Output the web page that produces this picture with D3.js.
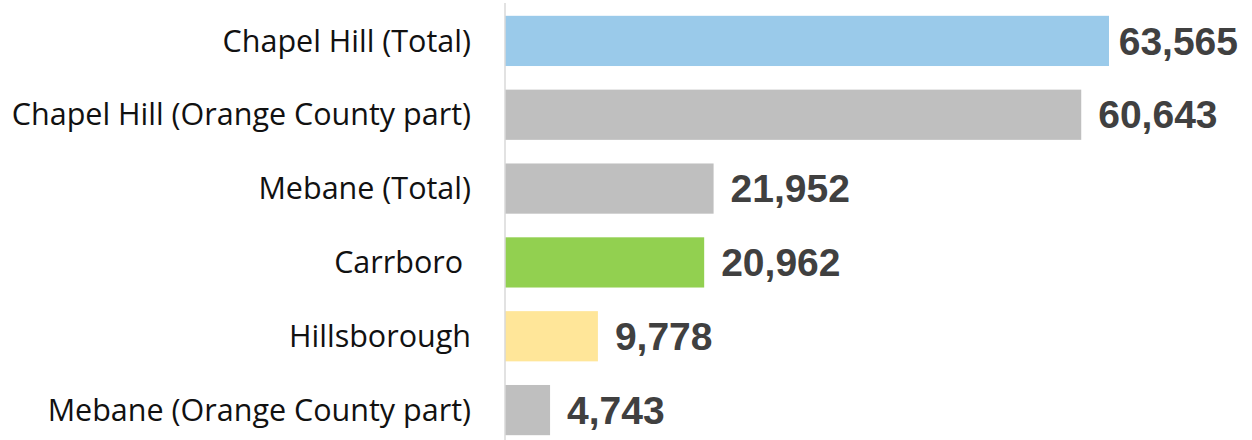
<!DOCTYPE html>
<html>
<head>
<meta charset="utf-8">
<script src="https://cdn.jsdelivr.net/npm/d3@7"></script>
<style>
  body { margin: 0; background: white; }
  svg { display: block; }
</style>
</head>
<body>
<div id="chart"></div>
<script>
var categories = ['Chapel Hill (Total)', 'Chapel Hill (Orange County part)', 'Mebane (Total)', 'Carrboro ', 'Hillsborough', 'Mebane (Orange County part)']
var values = [63565, 60643, 21952, 20962, 9778, 4743]
var barColors = ['#9acaea', '#bfbfbf', '#bfbfbf', '#92d050', '#ffe699', '#bfbfbf']

var width = 1252, height = 440
var axisX = 505

var data = categories.map(function (c, i) { return { name: c, value: values[i], color: barColors[i] } })

var svg = d3.select('#chart').append('svg')
    .attr('width', width)
    .attr('height', height)

// x: values -> pixels, zero sits on the vertical axis line
var x = d3.scaleLinear()
  .domain([0, 63565])
  .range([axisX, 1109])

var y = d3.scaleBand()
  .domain(categories)
  .range([4, 447])
  .paddingInner(0.32)
  .paddingOuter(0.16)

svg.append('g')
  .selectAll('rect')
  .data(data)
  .enter().append('rect')
    .attr('x', x(0))
    .attr('y', function (d) { return y(d.name) })
    .attr('width', function (d) { return x(d.value) - x(0) })
    .attr('height', y.bandwidth())
    .attr('fill', function (d) { return d.color })

// vertical axis line
svg.append('line')
  .attr('x1', axisX).attr('x2', axisX)
  .attr('y1', 3).attr('y2', height)
  .attr('stroke', '#d9d9d9')
  .attr('stroke-width', 1.5)

// category labels
svg.append('g')
  .selectAll('text')
  .data(data)
  .enter().append('text')
    .text(function (d) { return d.name })
    .attr('x', 471)
    .attr('y', function (d) { return y(d.name) + y.bandwidth() / 2 })
    .attr('dy', '.35em')
    .attr('text-anchor', 'end')
    .attr('font-family', 'Open Sans')
    .attr('font-size', 30.5)
    .attr('fill', '#111')
    .style('white-space', 'pre')

// value labels, pushed back inside the chart when they would run off the edge
var valueLabels = svg.append('g')
  .selectAll('text')
  .data(data)
  .enter().append('text')
    .text(function (d) { return d3.format(',')(d.value) })
    .attr('y', function (d) { return y(d.name) + y.bandwidth() / 2 })
    .attr('dy', '.35em')
    .attr('font-family', 'Liberation Sans')
    .attr('font-weight', 'bold')
    .attr('font-size', 39)
    .attr('fill', '#404040')

valueLabels.attr('x', function (d) {
  var w = this.getComputedTextLength()
  return Math.min(x(d.value) + 17, 1238 - w)
})
</script>
</body>
</html>
